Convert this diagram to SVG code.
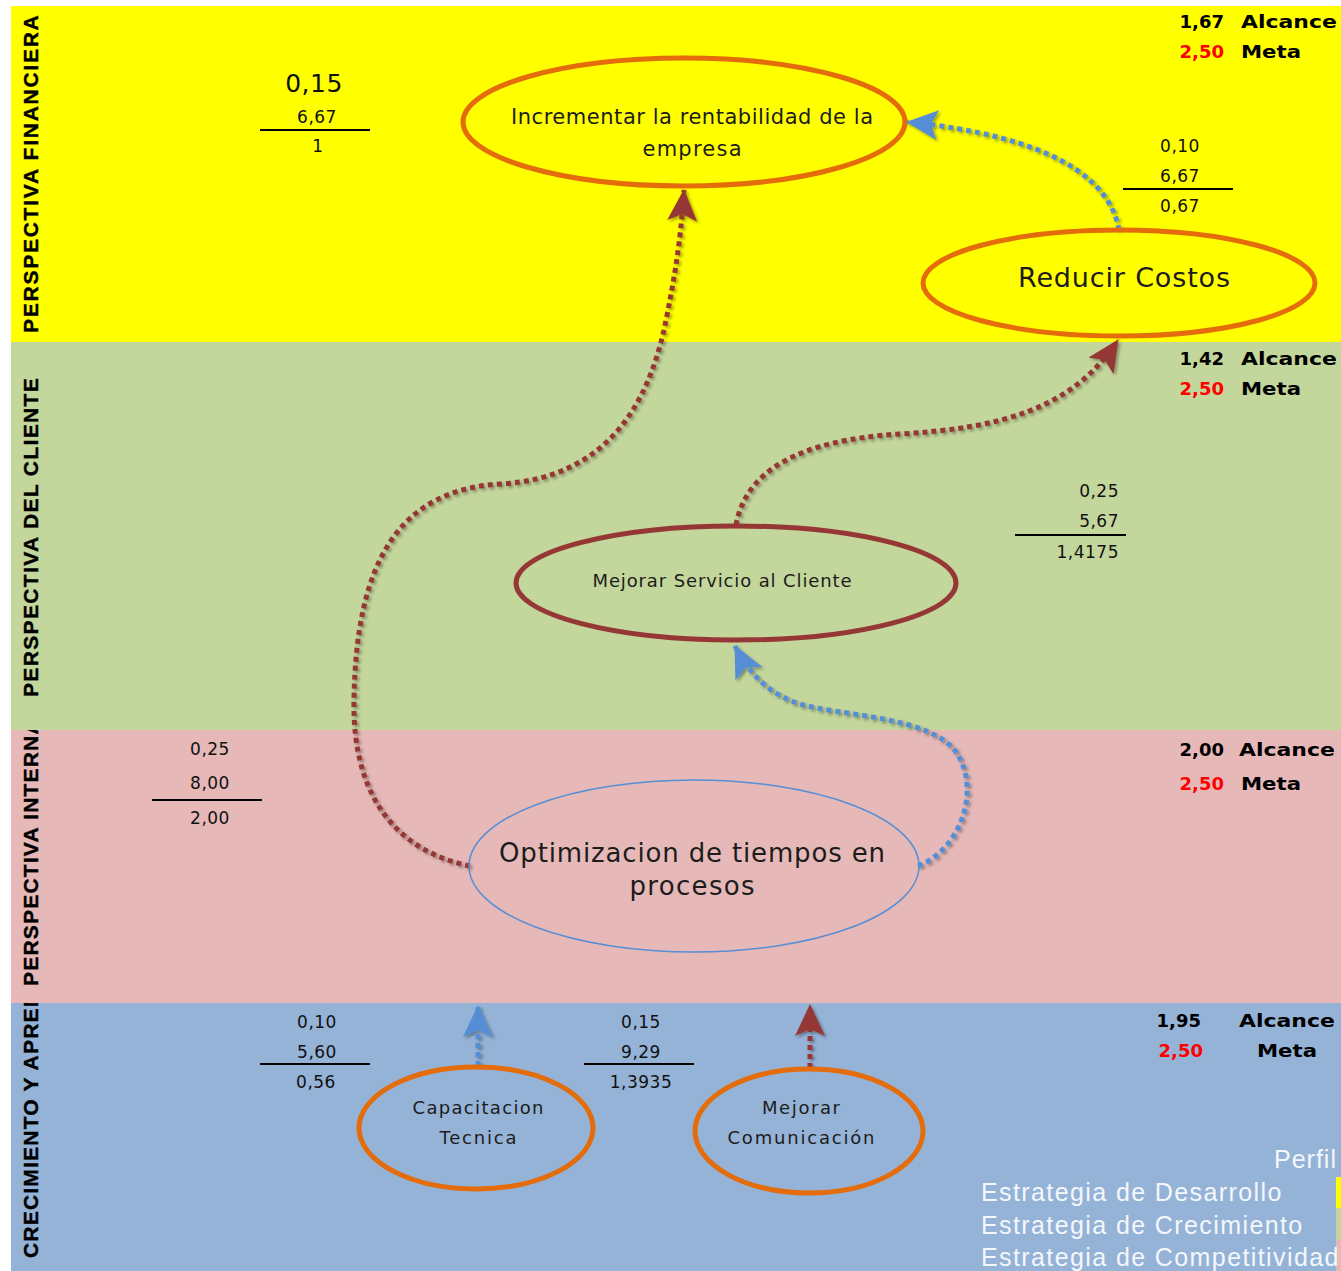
<svg xmlns="http://www.w3.org/2000/svg" width="1341" height="1271" viewBox="0 0 1341 1271">
  <style>
    .side { font-family: "Liberation Sans", Arial, sans-serif; font-weight: bold; font-size: 21px; fill: #000; stroke: #000; stroke-width: 0.4px; letter-spacing: 1.2px; }
    .num { font-family: "DejaVu Sans", "Liberation Sans", sans-serif; font-size: 17px; fill: #111; letter-spacing: 0.5px; text-anchor: middle; }
    .kpi { font-family: "DejaVu Sans", "Liberation Sans", sans-serif; font-weight: bold; font-size: 18px; fill: #000; }
    .kpi-r { text-anchor: end; }
    .red { fill: #FF0000; }
    .lbl { font-family: "DejaVu Sans", "Liberation Sans", sans-serif; fill: #1c1c1c; text-anchor: middle; }
    .legend { font-family: "Liberation Sans", Arial, sans-serif; font-size: 25px; fill: #F4F7FB; letter-spacing: 1.4px; }
    .rule { stroke: #000; stroke-width: 2; }
    .obj { fill: none; stroke: #E46C0A; stroke-width: 5; }
    .conn { fill: none; stroke-width: 5; stroke-dasharray: 5 4; }
    .c-red { stroke: #953735; }
    .c-blue { stroke: #558ED5; }
  </style>
  <defs>
    <marker id="arrow-red" markerUnits="userSpaceOnUse" markerWidth="32" markerHeight="30" viewBox="0 0 32 30" refX="31" refY="15" orient="auto">
      <path d="M0,0 L32,15 L0,30 L7,15 z" fill="#953735"/>
    </marker>
    <marker id="arrow-blue" markerUnits="userSpaceOnUse" markerWidth="32" markerHeight="30" viewBox="0 0 32 30" refX="31" refY="15" orient="auto">
      <path d="M0,0 L32,15 L0,30 L7,15 z" fill="#558ED5"/>
    </marker>
    <filter id="shade" x="-10%" y="-10%" width="120%" height="120%">
      <feDropShadow dx="2" dy="2" stdDeviation="1.5" flood-color="#000" flood-opacity="0.35"/>
    </filter>
    <clipPath id="clip-fin"><rect x="11" y="6" width="60" height="336"/></clipPath>
    <clipPath id="clip-int"><rect x="11" y="730" width="60" height="273"/></clipPath>
    <clipPath id="clip-cre"><rect x="11" y="1003" width="60" height="268"/></clipPath>
  </defs>

  <!-- page and perspective bands -->
  <rect x="0" y="0" width="1341" height="1271" fill="#FFFFFF"/>
  <g id="bands">
    <rect x="11" y="6" width="1330" height="336" fill="#FFFF00"/>
    <rect x="11" y="342" width="1330" height="388" fill="#C3D69B"/>
    <rect x="11" y="730" width="1330" height="273" fill="#E6B9B8"/>
    <rect x="11" y="1003" width="1330" height="268" fill="#95B3D7"/>
  </g>

  <!-- perspective titles -->
  <g id="titles">
    <g clip-path="url(#clip-fin)"><text class="side" transform="translate(38,333) rotate(-90)" textLength="319" lengthAdjust="spacing">PERSPECTIVA FINANCIERA</text></g>
    <text class="side" transform="translate(38,697) rotate(-90)" textLength="320" lengthAdjust="spacing">PERSPECTIVA DEL CLIENTE</text>
    <g clip-path="url(#clip-int)"><text class="side" transform="translate(38,986) rotate(-90)">PERSPECTIVA INTERNA</text></g>
    <g clip-path="url(#clip-cre)"><text class="side" transform="translate(38,1258) rotate(-90)">CRECIMIENTO Y APRENDIZAJE</text></g>
  </g>

  <!-- achievement vs target per perspective -->
  <g id="kpi-financiera">
    <text class="kpi kpi-r" x="1224" y="28">1,67</text>
    <text class="kpi" transform="translate(1241,28) scale(1.22,1)">Alcance</text>
    <text class="kpi kpi-r red" x="1224" y="58">2,50</text>
    <text class="kpi" transform="translate(1241,58) scale(1.18,1)">Meta</text>
  </g>
  <g id="kpi-cliente">
    <text class="kpi kpi-r" x="1224" y="365">1,42</text>
    <text class="kpi" transform="translate(1241,365) scale(1.22,1)">Alcance</text>
    <text class="kpi kpi-r red" x="1224" y="395">2,50</text>
    <text class="kpi" transform="translate(1241,395) scale(1.18,1)">Meta</text>
  </g>
  <g id="kpi-interna">
    <text class="kpi kpi-r" x="1224" y="756">2,00</text>
    <text class="kpi" transform="translate(1239,756) scale(1.22,1)">Alcance</text>
    <text class="kpi kpi-r red" x="1224" y="790">2,50</text>
    <text class="kpi" transform="translate(1241,790) scale(1.18,1)">Meta</text>
  </g>
  <g id="kpi-crecimiento">
    <text class="kpi kpi-r" x="1201" y="1027">1,95</text>
    <text class="kpi" transform="translate(1239,1027) scale(1.22,1)">Alcance</text>
    <text class="kpi kpi-r red" x="1203" y="1057">2,50</text>
    <text class="kpi" transform="translate(1257,1057) scale(1.18,1)">Meta</text>
  </g>

  <!-- weight x score = result, per objective -->
  <g id="calc-rentabilidad">
    <text class="num" x="314" y="92" style="font-size:25px;letter-spacing:0.5px">0,15</text>
    <text class="num" x="317" y="123">6,67</text>
    <line class="rule" x1="260" y1="130" x2="370" y2="130"/>
    <text class="num" x="318" y="152">1</text>
  </g>
  <g id="calc-costos">
    <text class="num" x="1180" y="152">0,10</text>
    <text class="num" x="1180" y="182">6,67</text>
    <line class="rule" x1="1123" y1="189" x2="1233" y2="189"/>
    <text class="num" x="1180" y="212">0,67</text>
  </g>
  <g id="calc-servicio">
    <text class="num" x="1119" y="497" style="text-anchor:end">0,25</text>
    <text class="num" x="1119" y="527" style="text-anchor:end">5,67</text>
    <line class="rule" x1="1015" y1="535" x2="1126" y2="535"/>
    <text class="num" x="1119" y="558" style="text-anchor:end">1,4175</text>
  </g>
  <g id="calc-tiempos">
    <text class="num" x="210" y="755">0,25</text>
    <text class="num" x="210" y="789">8,00</text>
    <line class="rule" x1="152" y1="800" x2="262" y2="800"/>
    <text class="num" x="210" y="824">2,00</text>
  </g>
  <g id="calc-capacitacion">
    <text class="num" x="317" y="1028">0,10</text>
    <text class="num" x="317" y="1058">5,60</text>
    <line class="rule" x1="260" y1="1064" x2="370" y2="1064"/>
    <text class="num" x="316" y="1088">0,56</text>
  </g>
  <g id="calc-comunicacion">
    <text class="num" x="641" y="1028">0,15</text>
    <text class="num" x="641" y="1058">9,29</text>
    <line class="rule" x1="584" y1="1064" x2="694" y2="1064"/>
    <text class="num" x="641" y="1088">1,3935</text>
  </g>

  <!-- cause-effect links -->
  <g id="connectors" filter="url(#shade)">
    <path class="conn c-red" d="M470,866 C400,852 352,800 354,700 C356,560 400,490 500,484 C610,478 648,400 664,330 C674,282 681,240 684,190" marker-end="url(#arrow-red)"/>
    <path class="conn c-red" d="M736,525 C746,470 800,440 900,434 C1000,428 1072,410 1118,340" marker-end="url(#arrow-red)"/>
    <path class="conn c-blue" d="M1119,230 C1110,178 1050,136 907,122" marker-end="url(#arrow-blue)"/>
    <path class="conn c-blue" d="M918,866 C960,850 982,790 956,752 C930,716 840,716 800,704 C768,694 748,672 735,646" marker-end="url(#arrow-blue)"/>
    <path class="conn c-blue" d="M478,1066 L478,1006" marker-end="url(#arrow-blue)"/>
    <path class="conn c-red" d="M810,1068 L810,1005" marker-end="url(#arrow-red)"/>
  </g>

  <!-- strategic objectives -->
  <g id="obj-rentabilidad">
    <ellipse class="obj" cx="684" cy="122" rx="221" ry="64"/>
    <text class="lbl" x="692" y="124" font-size="21" textLength="362" lengthAdjust="spacing">Incrementar la rentabilidad de la</text>
    <text class="lbl" x="692" y="156" font-size="21" textLength="99" lengthAdjust="spacing">empresa</text>
  </g>
  <g id="obj-costos">
    <ellipse class="obj" cx="1119" cy="283" rx="196" ry="53"/>
    <text class="lbl" x="1124" y="287" font-size="27" textLength="212" lengthAdjust="spacing">Reducir Costos</text>
  </g>
  <g id="obj-servicio">
    <ellipse cx="736" cy="583" rx="220" ry="57" fill="none" stroke="#953735" stroke-width="5"/>
    <text class="lbl" x="722" y="587" font-size="18" textLength="259" lengthAdjust="spacing" fill="#000">Mejorar Servicio al Cliente</text>
  </g>
  <g id="obj-tiempos">
    <ellipse cx="694" cy="866" rx="225" ry="86" fill="none" stroke="#558ED5" stroke-width="1.5"/>
    <text class="lbl" x="692" y="862" font-size="26" textLength="386" lengthAdjust="spacing" fill="#2e1a34">Optimizacion de tiempos en</text>
    <text class="lbl" x="692" y="895" font-size="26" textLength="125" lengthAdjust="spacing" fill="#2e1a34">procesos</text>
  </g>
  <g id="obj-capacitacion">
    <ellipse class="obj" cx="476" cy="1128" rx="117" ry="61"/>
    <text class="lbl" x="478" y="1114" font-size="18" textLength="131" lengthAdjust="spacing">Capacitacion</text>
    <text class="lbl" x="478" y="1144" font-size="18" textLength="77" lengthAdjust="spacing">Tecnica</text>
  </g>
  <g id="obj-comunicacion">
    <ellipse class="obj" cx="809" cy="1131" rx="114" ry="62"/>
    <text class="lbl" x="801" y="1114" font-size="18" textLength="78" lengthAdjust="spacing">Mejorar</text>
    <text class="lbl" x="801" y="1144" font-size="18" textLength="147" lengthAdjust="spacing">Comunicación</text>
  </g>

  <!-- profile legend -->
  <g id="legend">
    <rect x="1336" y="1177" width="5" height="31" fill="#FFFF00"/>
    <rect x="1336" y="1208" width="5" height="32" fill="#C3D69B"/>
    <rect x="1336" y="1240" width="5" height="31" fill="#E6B9B8"/>
    <text class="legend" x="1274" y="1168" style="letter-spacing:1px">Perfil</text>
    <text class="legend" x="981" y="1201">Estrategia de Desarrollo</text>
    <text class="legend" x="981" y="1234">Estrategia de Crecimiento</text>
    <text class="legend" x="981" y="1266">Estrategia de Competitividad</text>
  </g>
</svg>
